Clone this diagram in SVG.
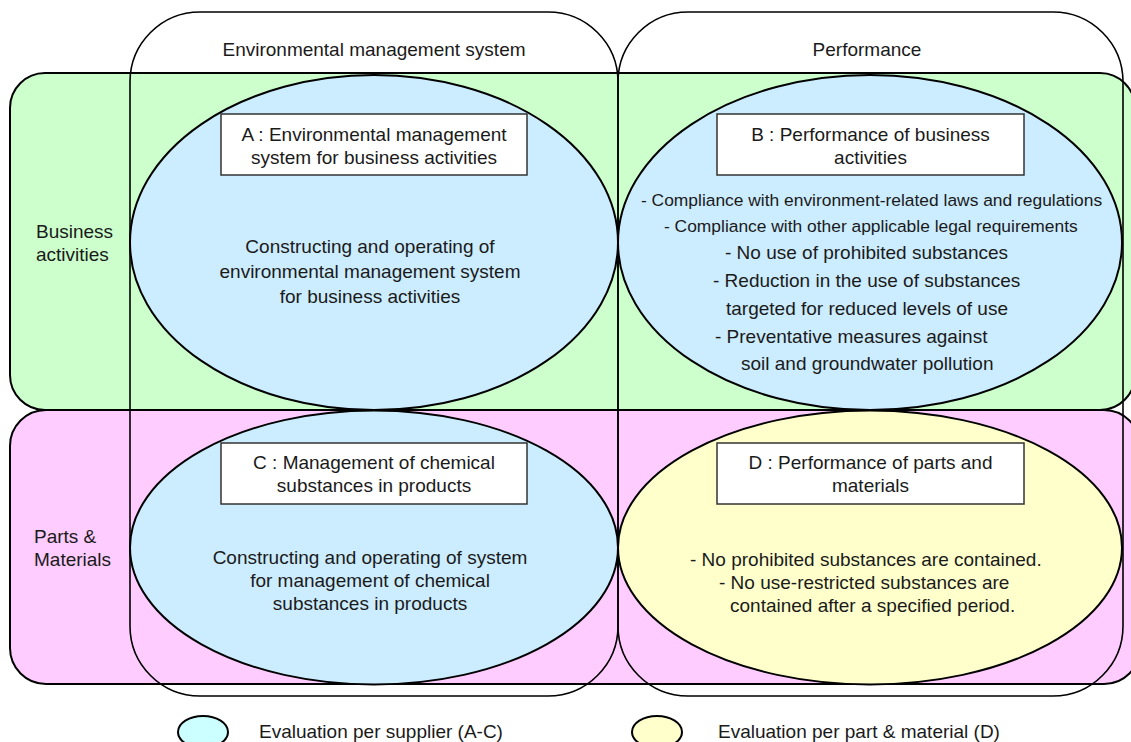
<svg xmlns="http://www.w3.org/2000/svg" width="1131" height="742" viewBox="0 0 1131 742">
<style>
text{font-family:"Liberation Sans",Arial,sans-serif;fill:#1a1a1a;font-size:19px}
.sm{font-size:17.4px}
.mid{text-anchor:middle}
.row{stroke:#000;stroke-width:2}
.col{fill:none;stroke:#000;stroke-width:1.6}
.ell{stroke:#000;stroke-width:2}
.box{fill:#fff;stroke:#333;stroke-width:1.5}
</style>
<rect width="1131" height="742" fill="#fff"/>
<g id="row-business"><rect class="row" x="10" y="73" width="1125" height="337" rx="35" fill="#CCFFCC"/></g>
<g id="row-parts"><rect class="row" x="10" y="410" width="1130" height="274" rx="36" fill="#FFCCFF"/></g>
<g id="col-ems"><rect class="col" x="130" y="12" width="488" height="684" rx="70"/></g>
<g id="col-perf"><rect class="col" x="618" y="12" width="505" height="684" rx="70"/></g>
<g id="headers">
<text class="mid" x="374" y="56">Environmental management system</text>
<text class="mid" x="867" y="56">Performance</text>
<text x="36" y="238">Business</text>
<text x="36" y="261">activities</text>
<text x="34" y="543">Parts &amp;</text>
<text x="34" y="566">Materials</text>
</g>
<g id="nodeA">
<ellipse class="ell" cx="374" cy="242.5" rx="244" ry="167.5" fill="#CCECFF"/>
<rect class="box" x="221" y="114" width="306" height="61"/>
<text class="mid" x="374" y="141">A : Environmental management</text>
<text class="mid" x="374" y="164">system for business activities</text>
<text class="mid" x="370" y="253">Constructing and operating of</text>
<text class="mid" x="370" y="278">environmental management system</text>
<text class="mid" x="370" y="303">for business activities</text>
</g>
<g id="nodeB">
<ellipse class="ell" cx="870" cy="242.5" rx="252" ry="167.5" fill="#CCECFF"/>
<rect class="box" x="717" y="114" width="307" height="61"/>
<text class="mid" x="870.5" y="141">B : Performance of business</text>
<text class="mid" x="870.5" y="164">activities</text>
<text class="sm" x="641" y="206">- Compliance with environment-related laws and regulations</text>
<text class="sm" x="664" y="232">- Compliance with other applicable legal requirements</text>
<text x="725" y="259">- No use of prohibited substances</text>
<text x="713" y="287">- Reduction in the use of substances</text>
<text x="726" y="315">targeted for reduced levels of use</text>
<text x="715" y="343">- Preventative measures against</text>
<text x="741" y="370">soil and groundwater pollution</text>
</g>
<g id="nodeC">
<ellipse class="ell" cx="374" cy="547.5" rx="244" ry="137" fill="#CCECFF"/>
<rect class="box" x="221" y="443" width="306" height="61"/>
<text class="mid" x="374" y="469">C : Management of chemical</text>
<text class="mid" x="374" y="492">substances in products</text>
<text class="mid" x="370" y="564">Constructing and operating of system</text>
<text class="mid" x="370" y="587">for management of chemical</text>
<text class="mid" x="370" y="610">substances in products</text>
</g>
<g id="nodeD">
<ellipse class="ell" cx="870" cy="547.5" rx="252" ry="137" fill="#FFFFCC"/>
<rect class="box" x="717" y="443" width="307" height="61"/>
<text class="mid" x="870.5" y="469">D : Performance of parts and</text>
<text class="mid" x="870.5" y="492">materials</text>
<text x="690" y="566">- No prohibited substances are contained.</text>
<text x="719" y="589">- No use-restricted substances are</text>
<text x="730" y="612">contained after a specified period.</text>
</g>
<g id="connectors"></g>
<g id="legend">
<ellipse class="ell" cx="203" cy="732" rx="25" ry="16" fill="#CCFFFF"/>
<text x="259" y="738">Evaluation per supplier (A-C)</text>
<ellipse class="ell" cx="657" cy="732" rx="25" ry="16" fill="#FFFFCC"/>
<text x="718" y="738">Evaluation per part &amp; material (D)</text>
</g>
</svg>
